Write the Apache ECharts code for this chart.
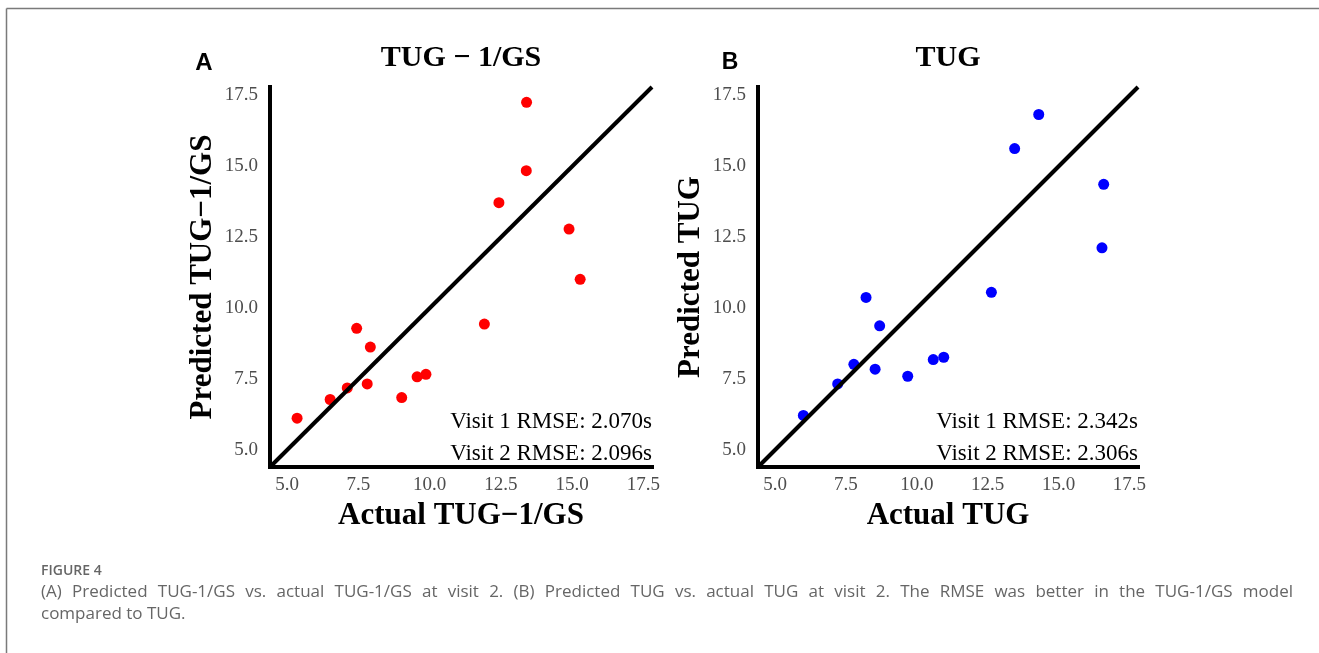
<!DOCTYPE html>
<html>
<head>
<meta charset="utf-8">
<script src="https://cdn.jsdelivr.net/npm/echarts@6/dist/echarts.min.js"></script>
<style>
  html, body { margin: 0; padding: 0; background: #ffffff; }
  #chart { width: 1319px; height: 653px; }
</style>
</head>
<body>
<div id="chart"></div>
<script>
// ---- Data ----
const tickValues = [5, 7.5, 10, 12.5, 15, 17.5];
const axisRange = [4.4, 17.8];

const actualA = [5.35, 6.51, 7.11, 7.44, 7.92, 7.81, 9.02, 9.56, 9.87, 11.92, 12.43, 13.39, 13.40, 14.89, 15.28];
const predictedA = [6.12, 6.78, 7.19, 9.29, 8.63, 7.33, 6.85, 7.58, 7.67, 9.44, 13.72, 14.85, 17.26, 12.79, 11.02];

const actualB = [6.00, 7.21, 7.78, 8.53, 8.21, 8.69, 9.68, 10.58, 10.95, 12.63, 13.45, 14.30, 16.59, 16.53];
const predictedB = [6.22, 7.33, 8.02, 7.85, 10.38, 9.38, 7.60, 8.19, 8.27, 10.56, 15.63, 16.83, 14.37, 12.13];

const panelTitles = ['TUG \u2212 1/GS', 'TUG'];
const panelLetters = ['A', 'B'];
const xNames = ['Actual TUG\u22121/GS', 'Actual TUG'];
const yNames = ['Predicted TUG\u22121/GS', 'Predicted TUG'];
const rmseA = ['Visit 1 RMSE: 2.070s', 'Visit 2 RMSE: 2.096s'];
const rmseB = ['Visit 1 RMSE: 2.342s', 'Visit 2 RMSE: 2.306s'];

const figLabel = 'FIGURE 4';
const captionLine1 = '(A) Predicted TUG-1/GS vs. actual TUG-1/GS at visit 2. (B) Predicted TUG vs. actual TUG at visit 2. The RMSE was better in the TUG-1/GS model';
const captionLine2 = 'compared to TUG.';

// ---- Layout ----
const grids = [
  { left: 270, top: 87, width: 382, height: 380 },
  { left: 758, top: 87, width: 380, height: 380 }
];
const SERIF = '"Liberation Serif", "Times New Roman", serif';
const SANS = '"Liberation Sans", Arial, sans-serif';
const CAPFONT = '"Open Sans", "Noto Sans", sans-serif';

function makeX(i) {
  return {
    type: 'value', gridIndex: i, min: axisRange[0], max: axisRange[1],
    axisLine: { show: true, onZero: false, lineStyle: { color: '#000', width: 4, cap: 'square' } },
    axisTick: { show: false },
    splitLine: { show: false },
    axisLabel: { customValues: tickValues, formatter: v => Number(v).toFixed(1),
      fontFamily: SERIF, fontSize: 19, color: '#4d4d4d', margin: 9 },
    name: xNames[i], nameLocation: 'middle', nameGap: 33,
    nameTextStyle: { fontFamily: SERIF, fontWeight: 'bold', fontSize: 31, color: '#000' }
  };
}
function makeY(i) {
  return {
    type: 'value', gridIndex: i, min: axisRange[0], max: axisRange[1],
    axisLine: { show: true, onZero: false, lineStyle: { color: '#000', width: 4, cap: 'square' } },
    axisTick: { show: false },
    splitLine: { show: false },
    axisLabel: { customValues: tickValues, formatter: v => Number(v).toFixed(1),
      fontFamily: SERIF, fontSize: 19, color: '#4d4d4d', margin: 12 },
    name: yNames[i], nameLocation: 'middle', nameGap: 52,
    nameTextStyle: { fontFamily: SERIF, fontWeight: 'bold', fontSize: 31, color: '#000' }
  };
}

function pairs(xs, ys) { return xs.map((x, k) => [x, ys[k]]); }

const graphics = [];
// frame
graphics.push({ type: 'line', shape: { x1: 6.5, y1: 8.5, x2: 1319, y2: 8.5 }, style: { stroke: '#7a7a7a', lineWidth: 1.5 } });
graphics.push({ type: 'line', shape: { x1: 6.5, y1: 8.5, x2: 6.5, y2: 653 }, style: { stroke: '#7a7a7a', lineWidth: 1.5 } });

grids.forEach((g, i) => {
  const cx = g.left + g.width / 2;
  const right = g.left + g.width;
  graphics.push({ type: 'text', x: cx, y: 58, style: { text: panelTitles[i], font: 'bold 30px ' + SERIF, fill: '#000', align: 'center', verticalAlign: 'middle' } });
  const lines = i === 0 ? rmseA : rmseB;
  lines.forEach((t, k) => {
    graphics.push({ type: 'text', x: right, y: 421.5 + k * 32, style: { text: t, font: '23px ' + SERIF, fill: '#000', align: 'right', verticalAlign: 'middle' } });
  });
});
graphics.push({ type: 'text', x: 204, y: 63, style: { text: panelLetters[0], font: 'bold 24px ' + SANS, fill: '#000', align: 'center', verticalAlign: 'middle' } });
graphics.push({ type: 'text', x: 730, y: 63, style: { text: panelLetters[1], font: 'bold 23px ' + SANS, fill: '#000', align: 'center', verticalAlign: 'middle' } });

// caption
const capColor = '#666666';
graphics.push({ type: 'text', x: 41, y: 571, style: { text: figLabel, font: '600 14px ' + CAPFONT, fill: capColor, align: 'left', verticalAlign: 'middle' } });
(function justify() {
  const font = '17px ' + CAPFONT;
  const ctx = document.createElement('canvas').getContext('2d');
  ctx.font = font;
  const words = captionLine1.split(' ');
  const widths = words.map(w => ctx.measureText(w).width);
  const total = widths.reduce((a, b) => a + b, 0);
  const x0 = 41, x1 = 1293;
  const gap = Math.max(4, (x1 - x0 - total) / (words.length - 1));
  let x = x0;
  words.forEach((w, k) => {
    graphics.push({ type: 'text', x: x, y: 592, style: { text: w, font: font, fill: capColor, align: 'left', verticalAlign: 'middle' } });
    x += widths[k] + gap;
  });
  graphics.push({ type: 'text', x: x0, y: 614, style: { text: captionLine2, font: font, fill: capColor, align: 'left', verticalAlign: 'middle' } });
})();

const chart = echarts.init(document.getElementById('chart'), null, { renderer: 'canvas' });
chart.setOption({
  backgroundColor: '#ffffff',
  animation: false,
  grid: grids,
  xAxis: [makeX(0), makeX(1)],
  yAxis: [makeY(0), makeY(1)],
  series: [
    { type: 'scatter', xAxisIndex: 0, yAxisIndex: 0, data: pairs(actualA, predictedA), symbolSize: 11, itemStyle: { color: '#ff0000', opacity: 1 }, z: 2 },
    { type: 'line', xAxisIndex: 0, yAxisIndex: 0, data: [axisRange, axisRange].map((r, k) => [r[k], r[k]]), symbol: 'none', lineStyle: { color: '#000', width: 4 }, silent: true, z: 3 },
    { type: 'scatter', xAxisIndex: 1, yAxisIndex: 1, data: pairs(actualB, predictedB), symbolSize: 11, itemStyle: { color: '#0000ff', opacity: 1 }, z: 2 },
    { type: 'line', xAxisIndex: 1, yAxisIndex: 1, data: [axisRange, axisRange].map((r, k) => [r[k], r[k]]), symbol: 'none', lineStyle: { color: '#000', width: 4 }, silent: true, z: 3 }
  ],
  graphic: graphics
});
</script>
</body>
</html>
